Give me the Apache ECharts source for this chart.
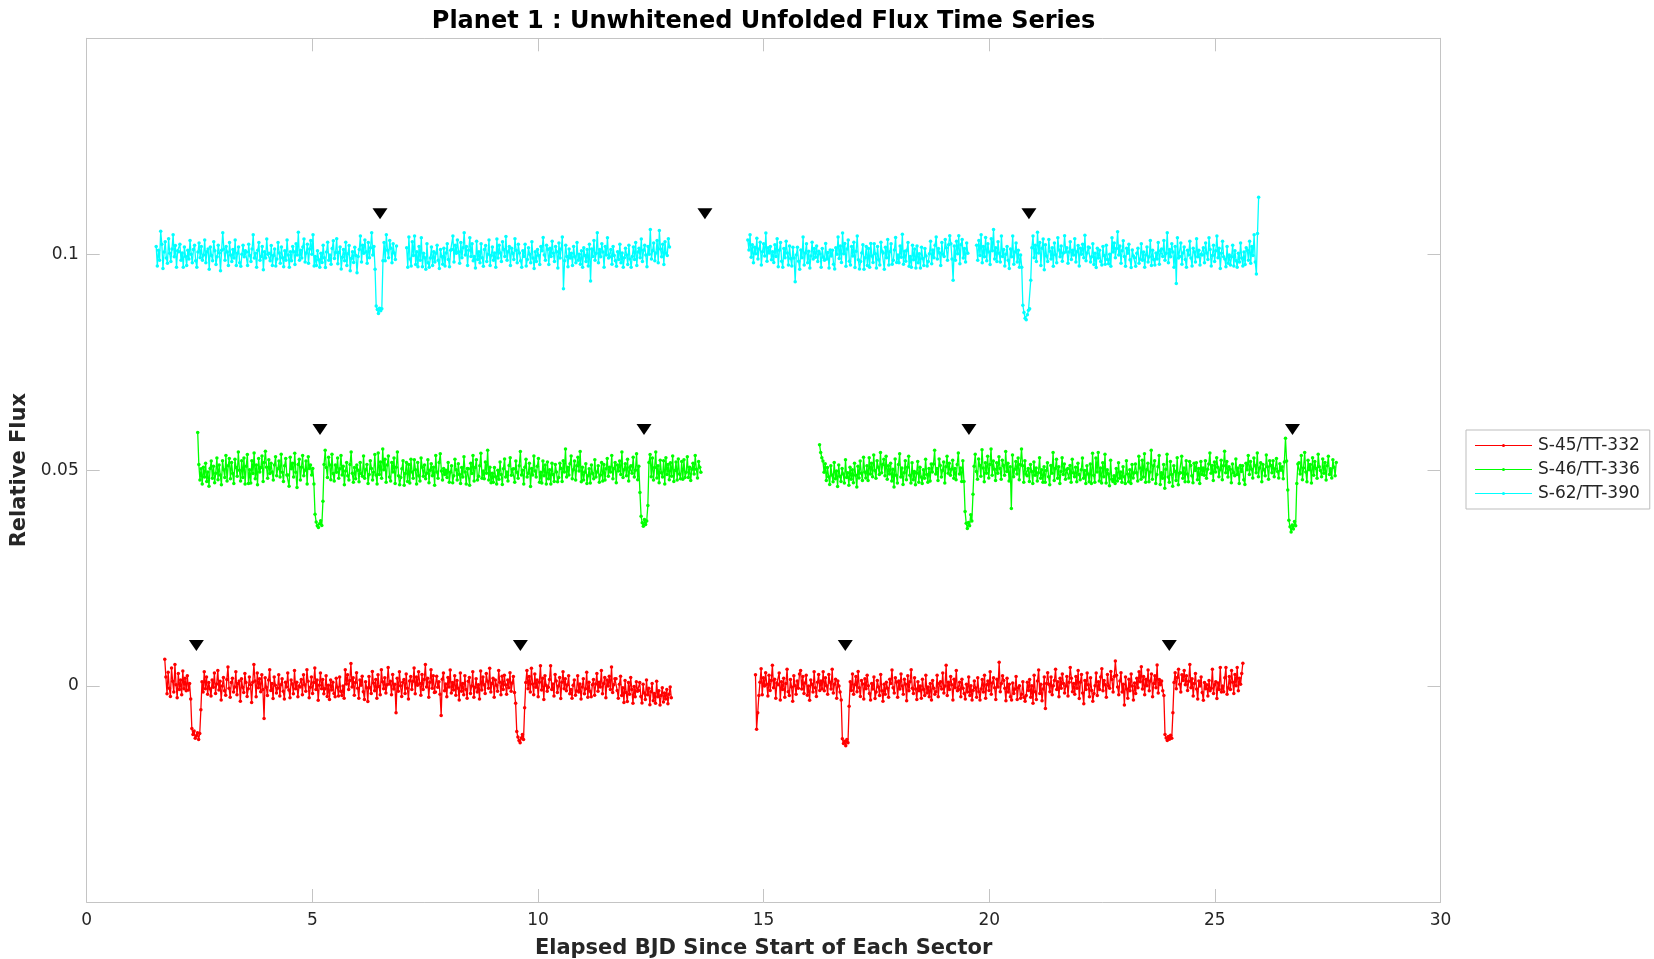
<!DOCTYPE html>
<html><head><meta charset="utf-8">
<script src="https://cdn.jsdelivr.net/npm/echarts@6/dist/echarts.min.js"></script>
<style>html,body{margin:0;padding:0;background:#fff}#c{width:1654px;height:959px}</style>
</head><body><div id="c"></div>
<script>
// ---- data ----
const seriesNames = ['S-45/TT-332', 'S-46/TT-336', 'S-62/TT-390'];
const seriesColors = ['#ff0000', '#00ff00', '#00ffff'];
const offsets = [0, 0.05, 0.1];          // vertical offsets between sectors
const CADENCE = 0.025;                   // days between samples
const UNIT = 1e-4;                       // flux deviations stored in units of 1e-4
const xTicks = [0, 5, 10, 15, 20, 25, 30];
const yTickLabels = [0, 0.05, 0.1];

// transit markers (BJD since start of sector)
const redTransits = [2.43, 9.61, 16.81, 23.99];
const greenTransits = [5.17, 12.35, 19.55, 26.72];
const cyanTransits = [6.50, 13.70, 20.88];
const markerLift = 0.0094;

// segment start times and segment baseline levels (units of 1e-4)
const redStarts = [1.73, 14.82];
const greenStarts = [2.46, 16.24];
const cyanStarts = [1.54, 7.09, 14.65, 19.72];
const redBase = [0, -2];
const greenBase = [-2, -1];
const cyanBase = [0, 0, -2, 0];

// flux deviations (units of 1e-4), 20 samples = 0.5 day per row
const red1 = [62,21,-18,32,-5,-24,42,11,-14,50,3,-27,29,-8,14,-20,35,-6,18,-11,
 24,-9,6,-30,-98,-112,-104,-121,-115,-108,-124,-110,-55,10,-14,33,-6,21,-19,8,
 -6,-23,14,-3,30,-17,5,36,-9,11,-32,0,20,-11,-21,15,44,-5,-26,8,
 18,-14,-2,33,-20,6,12,-35,17,-3,-15,29,8,-24,-6,21,3,-38,9,50,
 12,-25,30,-4,17,-13,26,-8,-75,19,-3,-22,14,38,-10,6,-29,21,2,-16,
 -5,26,-23,3,17,-12,-30,9,-2,30,-9,-27,14,5,-18,36,-6,9,-25,0,
 -2,15,-20,26,3,-12,38,11,-27,-3,21,-17,8,42,-8,14,-33,2,30,-6,
 15,-18,-6,24,-24,2,-31,14,-9,9,-17,-25,18,-3,-23,21,-12,-22,0,-28,
 38,5,26,-8,13,52,-2,19,-21,8,31,-5,-28,14,2,23,-13,-31,10,-4,
 -36,22,-4,-17,34,7,-11,15,-28,26,-1,-20,38,10,-6,19,-16,3,43,5,
 11,-20,27,-7,4,-62,18,-12,33,1,-24,9,15,-17,28,-5,-30,12,22,-8,
 11,42,-18,21,2,33,6,-21,27,-8,15,50,-2,18,-26,9,38,-5,24,-15,
 -14,23,-3,10,-19,-68,16,30,-11,5,-25,20,-2,37,-16,8,-9,24,-21,13,
 -5,-32,30,-12,6,-20,24,-8,-28,11,20,-17,0,33,-26,-3,17,-14,3,-30,
 35,-9,21,3,-17,29,11,-5,41,-14,6,18,-26,14,2,-12,36,9,-20,23,
 -8,25,3,-19,14,-4,31,-12,7,22,-15,-40,-105,-118,-126,-131,-120,-112,-124,-50,
 8,36,-6,22,-14,41,5,-20,28,-3,14,-25,9,47,-9,18,-31,24,2,-12,
 -3,15,47,-8,5,-23,27,12,-15,0,20,-29,9,33,-6,17,-11,3,24,-18,
 -8,-28,2,14,-21,-11,24,-14,5,-30,-2,17,-18,-6,32,-26,9,-12,-25,3,
 15,-21,5,29,-12,9,-2,36,-18,6,20,-27,14,0,23,-8,44,-15,3,17,
 17,-10,-28,4,23,-22,-4,-38,13,-15,-36,8,-19,20,-8,-40,-1,-25,10,-12,
 -10,8,-24,-39,4,-16,-31,14,-20,-5,-43,-13,6,-34,-17,-40,11,-25,-11,-44,
 -22,-4,-37,-16,-30,-8,-41,-19,-2,-27];
const red2 = [28,-98,-60,-20,11,42,-18,21,2,33,6,-21,27,-8,15,50,-2,18,-26,9,
 5,32,-30,12,-6,20,-24,8,41,-11,-20,17,0,-33,26,3,-17,14,-3,30,
 38,-5,24,-15,9,27,-19,2,-31,16,6,-12,35,-2,-22,11,29,-8,14,-4,
 35,-9,21,3,-17,29,11,-5,41,-14,6,18,-26,14,2,-12,-30,-120,-131,-126,
 -136,-122,-129,-45,12,-8,30,-17,5,24,-11,36,-2,-22,15,7,-28,19,-4,27,
 3,-15,-30,8,-5,23,-27,-12,15,0,-20,29,-9,-33,6,-17,11,-3,-24,18,
 8,39,-2,-14,21,11,-24,14,-5,30,2,-17,18,6,-32,26,-9,12,40,-3,
 -15,21,-5,-29,12,-9,2,-26,18,-6,-20,27,-14,0,-23,8,-30,15,-3,-17,
 -11,27,-23,8,12,-5,32,-14,2,50,-20,11,-6,24,5,-30,18,-2,38,-9,
 -6,11,-23,18,-3,-15,-28,6,-12,23,-20,3,-30,-8,14,-2,-24,21,-11,-30,
 -5,17,-12,27,-26,5,14,-8,35,-17,9,21,-2,-29,18,0,57,-11,8,26,
 15,-3,-32,20,-12,6,-23,-30,9,-15,-5,24,-29,-2,3,-26,-17,12,-24,-33,
 -20,11,-8,17,-24,3,-38,27,-11,-29,14,39,-15,6,-32,-5,23,-50,8,33,
 6,-11,23,-18,3,15,41,-6,12,-23,20,-3,30,8,-14,2,24,-21,11,45,
 20,-11,8,-17,24,-3,38,-27,11,29,-14,-39,15,-6,32,5,-23,21,-8,-33,
 -15,3,32,-20,12,-6,23,42,-9,15,5,-24,29,2,-3,36,17,-12,24,60,
 27,0,-18,14,33,-12,6,-42,23,-5,-26,18,-9,30,2,-30,9,-15,20,-2,
 35,12,47,-5,24,-18,18,3,39,-9,14,30,-23,8,26,-2,51,-14,17,5,
 14,-9,-20,-110,-118,-124,-115,-121,-112,-119,-60,10,33,-4,22,41,6,-12,28,15,
 38,5,26,-8,13,52,-2,19,-21,8,31,-5,-28,14,2,23,-13,-31,10,-4,
 5,-21,15,-9,-3,41,-15,5,12,-27,9,-6,45,-12,2,-11,21,45,-17,-2,
 24,-6,38,11,-15,29,3,45,-9,20,6,31,55];
const green1 = [89,15,-21,5,-30,9,-14,18,-24,-2,-35,6,23,-17,11,-27,-5,30,-20,14,
 -9,-32,24,3,-15,36,-23,12,29,-18,20,-6,-29,27,8,-12,44,2,-23,24,
 -15,30,-30,11,38,-29,3,-28,24,-6,42,-18,14,-32,29,-2,8,35,-24,20,
 46,9,-17,26,-6,18,-2,-21,14,33,-11,5,23,-14,39,-3,-24,12,29,-9,
 -9,-35,32,5,18,-14,41,-3,-38,15,27,-21,9,36,-11,2,23,-30,33,6,
 14,-9,6,-30,-100,-118,-127,-131,-122,-115,-126,-70,15,48,8,-15,32,14,-20,39,
 -6,-23,14,-3,30,-17,5,36,-9,11,-32,0,20,-11,-21,15,44,-5,-26,8,
 -18,14,2,-25,20,-6,-12,35,-17,3,15,-29,-8,24,6,-21,-3,38,-9,-30,
 42,-8,21,-17,51,3,27,-26,14,35,-14,-23,20,-2,30,-29,9,44,-11,-32,
 -15,5,24,-33,-6,20,-24,15,-28,27,-2,-17,26,3,-30,20,-11,-23,30,9,
 -12,14,-18,-5,26,-27,2,17,-11,9,-33,36,-2,-17,20,40,0,-21,6,-8,
 2,-15,20,-26,-3,12,-27,-11,27,3,-21,17,-8,-29,8,-14,33,-2,-30,6,
 5,-33,18,-6,36,-23,8,26,-21,-12,12,41,-17,0,-18,21,-5,48,-21,9,
 -27,-5,-26,8,-13,-30,2,-19,21,-8,-31,5,28,-14,-2,-23,13,31,-10,4,
 5,-26,23,-3,-17,12,45,-9,2,-30,9,27,-14,-5,18,-36,6,-9,35,0,
 -14,11,29,-26,-3,-28,23,-11,14,-30,21,-18,3,-30,18,-8,-24,15,-2,-25,
 -15,18,6,-24,24,-2,51,-14,9,-9,17,35,-18,3,23,-21,12,32,0,45,
 -25,9,-21,-3,17,-29,-11,5,-28,14,-6,-18,26,-14,-2,12,-26,-9,20,-23,
 15,-21,5,29,-12,9,-2,36,-18,6,20,-27,14,0,23,-8,44,-15,3,17,
 -11,27,-23,8,12,-5,32,-14,2,40,-20,11,-50,-105,-120,-128,-112,-124,-116,-80,
 20,38,-13,30,-21,8,44,-16,12,-27,25,-4,-14,24,-30,31,-8,15,-20,19,
 -12,35,-24,1,21,-21,28,-7,-18,22,-19,26,-15,-3,33,-15,9,-22,4,18,
 -7,36,4,-16,22,9,-3];
const green2 = [60,42,30,22,-4,16,-23,7,-14,-32,11,-10,-26,19,-19,-1,-37,13,-13,-25,
 5,-8,-29,25,-16,-5,-34,8,-20,2,-28,17,-11,-38,10,-17,22,-6,-23,31,
 -3,-17,11,-23,30,-8,17,-14,36,0,-18,23,8,-9,42,-5,14,26,-12,33,
 -20,11,-8,17,-24,3,-38,27,-11,-29,14,39,-15,6,-32,-5,23,-21,8,33,
 -11,-29,18,-21,-2,-33,-6,21,-27,8,-15,-30,2,-18,26,-9,-27,5,-24,15,
 -3,15,47,-8,5,-23,27,12,-15,0,20,-29,9,33,-6,17,-11,3,24,-18,
 5,-21,14,41,-8,6,-25,23,-25,-95,-122,-134,-120,-128,-102,-117,-55,10,38,-2,
 -20,27,12,-13,48,6,-26,18,-6,33,-17,14,50,-11,22,3,-23,18,-6,32,
 5,-20,24,12,-11,44,-2,17,-24,9,-88,36,-14,3,21,-8,29,-21,14,50,
 11,-27,23,-8,-12,5,-25,14,-2,-30,20,-11,6,-24,-5,30,-18,2,-27,9,
 -27,0,18,-14,-33,12,-6,42,-23,5,26,-18,9,-30,-2,30,-9,15,-20,2,
 5,-17,12,-27,26,-5,-14,8,-26,17,-9,-21,2,29,-18,0,-30,11,-8,-26,
 15,-30,40,-11,-27,29,-3,42,-24,6,-29,18,-14,38,-29,2,-8,-35,24,-20,
 -25,-12,-30,5,-24,18,-18,-3,-27,9,-14,-30,23,-8,-26,2,-30,14,-17,-5,
 15,-5,-24,33,6,-20,24,-15,39,-27,2,17,-26,-3,47,-20,11,23,-30,-9,
 9,35,-32,-5,-18,14,-41,3,38,-15,-27,21,-9,-36,11,-2,-23,30,-33,-6,
 -5,33,-18,6,-26,23,-8,-26,21,12,-12,-28,17,0,18,-21,5,-30,21,-9,
 6,-11,23,-18,3,15,41,-6,12,-23,20,-3,30,8,-14,2,24,-21,11,45,
 -5,21,-15,9,3,-28,15,-5,-12,27,-9,6,-30,12,-2,11,-21,-32,17,2,
 35,-9,21,3,-17,29,11,-5,41,-14,6,18,-26,14,2,-12,36,9,-20,23,
 12,-5,23,-14,4,28,-2,-17,16,1,9,-19,20,75,22,-45,-115,-130,-142,-126,
 -135,-118,-128,-30,15,18,-8,35,-21,6,42,-3,-26,24,2,14,-29,30,-11,21,
 5,-18,38,9,0,-14,27,-6,19,-22,11,33,-9,4,-17,25,8,-12,19];
const cyan1 = [18,-27,9,-14,53,23,-33,5,29,-9,-21,36,2,-17,12,45,-6,20,-30,8,
 6,23,-14,3,-30,17,-5,-26,9,-11,32,0,-20,11,21,-15,-30,5,26,-8,
 18,-14,-2,33,-20,6,12,-35,17,-3,-15,29,8,-24,-6,21,3,-38,9,50,
 12,-14,18,5,-26,27,-2,-17,11,-9,33,-26,2,17,-20,-28,0,21,-6,8,
 5,-26,23,-3,-17,12,45,-9,2,-30,9,27,-14,-5,18,-36,6,-9,35,0,
 2,-15,20,-26,-3,12,-27,-11,27,3,-21,17,-8,-29,8,-14,33,-2,-30,6,
 -15,18,6,-24,24,-2,51,-14,9,-9,17,35,-18,3,23,-21,12,32,0,45,
 -27,-5,-26,8,-13,-30,2,-19,21,-8,-31,5,28,-14,-2,-23,13,31,-10,4,
 36,-22,4,17,-34,-7,11,-15,28,-26,1,20,-38,-10,6,-19,16,-3,-43,-5,
 11,42,-18,21,2,33,6,-21,27,-8,15,50,-2,18,-35,-120,-128,-137,-125,-131,
 -126,-15,27,-15,45,9,-8,32,14,-20,24,3,-12,19];
const cyan2 = [15,-30,40,-11,-27,29,-3,42,-24,6,-29,18,-14,38,-29,2,-8,-35,24,-20,
 -30,-9,17,-26,6,-18,2,21,-14,-33,11,-5,-23,14,-27,3,24,-12,-29,9,
 11,42,-18,21,2,33,6,-21,27,-8,15,50,-2,18,-26,9,38,-5,24,-15,
 -5,-32,30,-12,6,-20,24,-8,-28,11,20,-17,0,33,-26,-3,17,-14,3,-30,
 35,-9,21,3,-17,29,11,-5,41,-14,6,18,-26,14,2,-12,36,9,-20,23,
 3,-15,-30,8,-5,23,-27,-12,15,0,-20,29,-9,-33,6,-17,11,-3,-24,18,
 8,39,-2,-14,21,11,-24,14,-5,30,2,-17,18,6,-32,26,-9,12,40,-80,
 -15,21,-5,-29,12,-9,2,-26,18,-6,-20,27,-14,0,-23,8,-30,15,-3,-17,
 11,-27,23,-62,12,-5,32,-14,2,50,-20,11,-6,24,5,-30,18,-2,38,-9,
 -6,11,-23,18,-3,-15,-28,6,-12,23,-20,3,-30,-8,14,-2,-24,21,-11,-30,
 -5,17,-12,27,-26,5,14,-8,35,-17,9,21,-2,-29,18,0,57,-11,8,26,
 -15,3,32,-20,55,12,-6,23,-24,29,2,-3,36,17];
const cyan3 = [35,12,47,-5,24,-18,18,3,39,-9,14,30,-23,8,26,-2,51,-14,17,5,
 20,-11,8,-17,24,-3,38,-27,11,29,-14,-28,15,-6,32,5,-23,21,-8,-25,
 18,-7,-62,0,18,-14,-33,12,-6,42,-23,5,26,-18,9,-30,-2,30,-9,15,
 -5,21,-15,9,3,-28,15,-5,-12,27,-9,6,-30,12,-2,11,-21,-32,17,2,
 42,-8,21,-17,51,3,27,-26,14,35,-14,-23,20,-2,30,-29,9,44,-11,-32,
 -15,5,24,-33,-6,20,-24,15,-28,27,-2,-17,26,3,-30,20,-11,-23,30,9,
 5,-33,18,-6,36,-23,8,26,-21,-12,12,41,-17,0,-18,21,-5,48,-21,9,
 -14,11,29,-26,-3,-28,23,-11,14,-30,21,-18,3,-30,18,-8,-24,15,-2,-25,
 -15,3,32,-20,12,-6,23,42,-9,15,5,-24,29,2,-3,36,17,-12,24,45,
 26,-9,-58,21,-12,32,3,45,-20,24,36,-7,15,-16,28,4];
const cyan4 = [21,-14,32,-3,45,-20,18,-6,39,-15,24,5,-24,36,8,57,-11,15,-17,29,
 2,-18,42,-5,11,-27,0,18,-14,-33,12,-6,42,-23,5,26,-18,9,-30,-2,
 -30,-118,-135,-148,-152,-140,-130,-126,-60,15,42,-8,21,-17,51,3,27,-26,14,35,
 -36,22,-4,-17,34,7,-11,15,-28,26,-1,-20,38,10,-6,19,-16,3,43,5,
 15,-21,5,29,-12,9,-2,36,-18,6,20,-27,14,0,23,-8,44,-15,3,17,
 15,-18,-6,24,-24,2,-31,14,-9,9,-17,-25,18,-3,-23,21,-12,-22,0,-28,
 38,5,26,-8,13,52,-2,19,-21,8,31,-5,-28,14,2,23,-13,-31,10,-4,
 -8,-28,2,14,-21,-11,24,-14,5,-30,-2,17,-18,-6,32,-26,9,-12,-25,3,
 -11,27,-23,8,12,-5,32,-14,2,50,-20,11,-6,24,5,-30,18,-68,38,-9,
 -5,26,-23,3,17,-12,-30,9,-2,30,-9,-27,14,5,-18,36,-6,9,-25,0,
 -2,15,-20,26,3,-12,38,11,-27,-3,21,-17,8,42,-8,14,-33,2,30,-6,
 -11,-29,18,-21,-2,-25,-6,21,-27,8,-15,-30,2,-18,26,-9,-27,5,-24,15,
 9,-14,30,-21,18,-3,45,-18,-46,48,132];

// ---- build series data ----
function buildLine(starts, segs, bases, off) {
  const out = [];
  segs.forEach((arr, s) => {
    if (s > 0) out.push(['-', '-']);
    arr.forEach((v, i) => out.push([+(starts[s] + i * CADENCE).toFixed(4), off + (v + bases[s]) * UNIT]));
  });
  return out;
}
const lineData = [
  buildLine(redStarts, [red1, red2], redBase, offsets[0]),
  buildLine(greenStarts, [green1, green2], greenBase, offsets[1]),
  buildLine(cyanStarts, [cyan1, cyan2, cyan3, cyan4], cyanBase, offsets[2])
];
const markerData = [redTransits, greenTransits, cyanTransits].map((ts, k) => ts.map(t => [t, offsets[k] + markerLift]));

const FONT = 'DejaVu Sans';
const axisGray = '#c4c4c4';
const textGray = '#262626';
const gridLeft = 86.7, gridRight = 1440.5, gridTop = 38.3, gridBottom = 902;

const chart = echarts.init(document.getElementById('c'), null, {renderer: 'canvas'});
const isEdge = v => Math.abs(v + 0.05) < 1e-9 || Math.abs(v - 0.15) < 1e-9;

const series = [];
lineData.forEach((d, k) => {
  series.push({
    name: seriesNames[k], type: 'line', data: d, xAxisIndex: 0, yAxisIndex: 0,
    symbol: 'circle', symbolSize: 3.5, showSymbol: true, showAllSymbol: true,
    connectNulls: false, silent: true, progressive: 0,
    lineStyle: {color: seriesColors[k], width: 1.3},
    itemStyle: {color: seriesColors[k]},
    emphasis: {disabled: true}, z: 2
  });
});
markerData.forEach((d, k) => {
  series.push({
    name: 'transit' + k, type: 'scatter', data: d, xAxisIndex: 0, yAxisIndex: 0,
    symbol: 'triangle', symbolRotate: 180, symbolSize: [15, 11],
    itemStyle: {color: '#000000', opacity: 1}, silent: true, z: 5
  });
});

const xBase = {
  type: 'value', min: 0, max: 30, interval: 5,
  axisLine: {show: true, onZero: false, lineStyle: {color: axisGray, width: 1}},
  axisTick: {show: true, inside: true, length: 13, lineStyle: {color: axisGray}},
  splitLine: {show: false}
};
const yBase = {
  type: 'value', min: -0.05, max: 0.15, interval: 0.05,
  axisLine: {show: true, onZero: false, lineStyle: {color: axisGray, width: 1}},
  axisTick: {show: true, inside: true, length: 13, lineStyle: {color: axisGray}},
  splitLine: {show: false}
};

const legendIcon = 'path://M0,1L57,1L57,2L0,2Z M28.5,0A1.5,1.5,0,1,1,28.5,3A1.5,1.5,0,1,1,28.5,0Z';

chart.setOption({
  animation: false,
  backgroundColor: '#ffffff',
  title: {
    text: 'Planet 1 : Unwhitened Unfolded Flux Time Series',
    left: (gridLeft + gridRight) / 2, top: 10, padding: 0, textAlign: 'center',
    textStyle: {fontFamily: FONT, fontWeight: 'bold', fontSize: 24, color: '#000'}
  },
  legend: {
    data: seriesNames.map(n => ({name: n, icon: legendIcon})),
    orient: 'vertical', left: 1466, top: 430,
    padding: [7, 10, 7, 9], itemWidth: 57, itemHeight: 3, itemGap: 7,
    itemStyle: {borderWidth: 0},
    backgroundColor: '#fff', borderColor: '#bdbdbd', borderWidth: 1, borderRadius: 0,
    textStyle: {fontFamily: FONT, fontSize: 17, color: textGray, padding: [0, 0, 0, 1]},
    selectedMode: false
  },
  grid: {left: gridLeft, top: gridTop, width: gridRight - gridLeft, height: gridBottom - gridTop,
    containLabel: false, outerBoundsMode: 'none'},
  xAxis: [
    Object.assign({}, xBase, {
      position: 'bottom',
      axisLabel: {show: true, color: textGray, fontFamily: FONT, fontSize: 17, margin: 10},
      name: 'Elapsed BJD Since Start of Each Sector', nameLocation: 'middle', nameGap: 36,
      nameTextStyle: {fontFamily: FONT, fontWeight: 'bold', fontSize: 21, color: '#262626'}
    }),
    Object.assign({}, xBase, {position: 'top', axisLabel: {show: false}})
  ],
  yAxis: [
    Object.assign({}, yBase, {
      position: 'left',
      axisLabel: {show: true, color: textGray, fontFamily: FONT, fontSize: 17, margin: 8,
        formatter: v => isEdge(v) ? '' : String(+v.toFixed(2))},
      name: 'Relative Flux', nameLocation: 'middle', nameGap: 49,
      nameTextStyle: {fontFamily: FONT, fontWeight: 'bold', fontSize: 21, color: '#262626'}
    }),
    Object.assign({}, yBase, {position: 'right', axisLabel: {show: false}})
  ],
  series: series
});
</script>
</body></html>
